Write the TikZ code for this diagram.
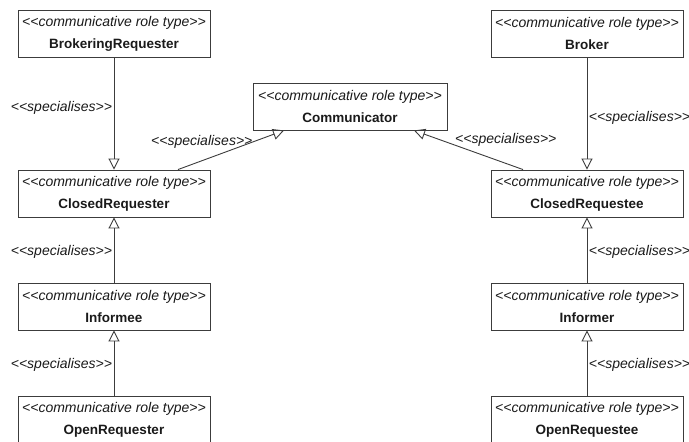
\documentclass[tikz,border=0pt]{standalone}
\usepackage{fontspec}
\setmainfont{Liberation Sans}
\usetikzlibrary{arrows.meta}
\definecolor{edgegray}{HTML}{3C3C3C}
\definecolor{inkgray}{HTML}{1A1A1A}
\newcommand{\roletype}[1]{{\itshape\fontsize{14}{22}\selectfont <{}<communicative role type>{}>}\\{\bfseries\fontsize{13.5}{22}\selectfont #1}}
\tikzset{
  rolebox/.style={draw=edgegray, line width=0.9pt, fill=white, minimum width=192pt,
    minimum height=47pt, inner sep=0pt, align=center, text=inkgray,
    font=\fontsize{14}{22}\selectfont},
  gen/.style={draw=edgegray, line width=0.9pt,
    -{Triangle[open, length=11pt, width=11pt, line width=0.9pt]}},
  stlabel/.style={font=\itshape\fontsize{14}{16}\selectfont, text=inkgray, inner sep=1.5pt}
}
\begin{document}
\begin{tikzpicture}[x=1pt, y=-1pt]
  \useasboundingbox (0,0) rectangle (689,442);
  % left column
  \node[rolebox] (brq) at (114,33.5)  {\roletype{BrokeringRequester}};
  \node[rolebox] (crq) at (114,193.5) {\roletype{ClosedRequester}};
  \node[rolebox] (ime) at (114,306.5) {\roletype{Informee}};
  \node[rolebox] (orq) at (114,419.5) {\roletype{OpenRequester}};
  % centre
  \node[rolebox, minimum width=194pt] (com) at (350,106.5) {\roletype{Communicator}};
  % right column
  \node[rolebox] (bkr) at (587,33.5)  {\roletype{Broker}};
  \node[rolebox] (cre) at (587,193.5) {\roletype{ClosedRequestee}};
  \node[rolebox] (imr) at (587,306.5) {\roletype{Informer}};
  \node[rolebox] (ore) at (587,419.5) {\roletype{OpenRequestee}};

  % specialisation links, left side
  \draw[gen] (brq) -- node[stlabel, pos=0.45, anchor=east] (l1) {<{}<specialises>{}>} (crq);
  \draw[gen] (ime) -- node[stlabel, pos=0.47, anchor=east] (l2) {<{}<specialises>{}>} (crq);
  \draw[gen] (orq) -- node[stlabel, pos=0.47, anchor=east] (l3) {<{}<specialises>{}>} (ime);
  \draw[gen] ([xshift=64pt]crq.north) -- node[stlabel, pos=0.72, anchor=east] (l4) {<{}<specialises>{}>} ([xshift=-66pt]com.south);

  % specialisation links, right side
  \draw[gen] (bkr) -- node[stlabel, pos=0.54, anchor=west] (r1) {<{}<specialises>{}>} (cre);
  \draw[gen] (imr) -- node[stlabel, pos=0.47, anchor=west] (r2) {<{}<specialises>{}>} (cre);
  \draw[gen] (ore) -- node[stlabel, pos=0.47, anchor=west] (r3) {<{}<specialises>{}>} (imr);
  \draw[gen] ([xshift=-64pt]cre.north) -- node[stlabel, pos=0.64, anchor=west, yshift=5pt] (r4) {<{}<specialises>{}>} ([xshift=64pt]com.south);
\end{tikzpicture}
\end{document}
